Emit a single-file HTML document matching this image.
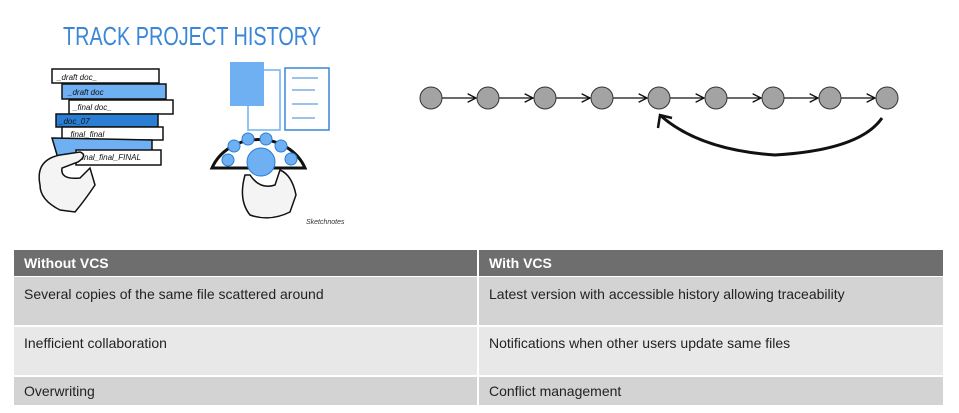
<!DOCTYPE html>
<html><head><style>
body{margin:0;width:959px;height:413px;background:#fff;position:relative;overflow:hidden;font-family:"Liberation Sans",sans-serif}
.c{position:absolute;box-sizing:border-box;padding:0 10px;font-size:14px;color:#222;line-height:16px;overflow:hidden}
.h{background:#6e6e6e;color:#fff;font-weight:bold;padding-top:5px}
.a{background:#d3d3d3}.b{background:#e8e8e8}
</style></head><body>
<svg width="959" height="250" style="position:absolute;left:0;top:0">
<text x="63" y="45" font-family="Liberation Sans" font-size="26" fill="#3a86d8" textLength="258" lengthAdjust="spacingAndGlyphs">TRACK PROJECT HISTORY</text>
<g stroke="#111" stroke-width="1.5">
<rect x="52" y="69" width="107" height="14" fill="#fff"/>
<rect x="62" y="84" width="104" height="15" fill="#6fb0f2"/>
<rect x="69" y="100" width="104" height="14" fill="#fff"/>
<rect x="56" y="114" width="102" height="13" fill="#2a7fd4"/>
<rect x="62" y="127" width="101" height="13" fill="#fff"/>
<polygon points="52,138 152,140 152,152 60,165" fill="#6fb0f2"/>
<rect x="76" y="150" width="85" height="15" fill="#fff"/>
</g>
<g fill="#111" font-family="Liberation Sans" font-size="8" font-style="italic">
<text x="57" y="80">_draft doc_</text><text x="68" y="95">_draft doc</text>
<text x="73" y="110">_final doc_</text><text x="59" y="124">_doc_07</text>
<text x="66" y="137">_final_final</text><text x="80" y="160">final_final_FINAL</text>
</g>
<path d="M40,185 Q35,160 60,155 L80,152 Q88,155 78,162 L62,168 Q60,180 80,178 L90,168 L95,185 Q85,200 75,212 L60,210 Q40,200 40,185Z" fill="#f4f4f4" stroke="#111" stroke-width="1.5"/>
<rect x="230" y="62" width="34" height="44" fill="#6fb0f2"/>
<rect x="248" y="70" width="32" height="60" fill="none" stroke="#6fb0f2" stroke-width="1.5"/>
<rect x="285" y="68" width="44" height="62" fill="#fff" stroke="#3a86d8" stroke-width="1.5"/>
<g stroke="#3a86d8" stroke-width="1"><line x1="292" y1="78" x2="318" y2="78"/><line x1="292" y1="90" x2="315" y2="90"/><line x1="292" y1="104" x2="318" y2="104"/><line x1="292" y1="118" x2="315" y2="118"/></g>
<path d="M212,168 A50,45 0 0 1 305,168 Z" fill="#fff" stroke="#111" stroke-width="3"/>
<g fill="#6fb0f2" stroke="#2a7fd4">
<circle cx="228" cy="160" r="6"/><circle cx="234" cy="146" r="6"/><circle cx="248" cy="139" r="6"/><circle cx="266" cy="139" r="6"/><circle cx="281" cy="146" r="6"/><circle cx="291" cy="159" r="6"/>
<circle cx="261" cy="162" r="14"/>
</g>
<path d="M245,175 Q238,200 250,215 Q270,222 290,212 L296,195 Q292,175 280,170 L275,185 Q260,190 250,175Z" fill="#f4f4f4" stroke="#111" stroke-width="1.5"/>
<text x="306" y="224" font-size="7" font-family="Liberation Sans" font-style="italic" fill="#333">Sketchnotes</text>
<defs><marker id="ar" markerWidth="8" markerHeight="8" refX="7" refY="4" orient="auto"><path d="M0,0.5 L7,4 L0,7.5" fill="none" stroke="#111" stroke-width="1.2"/></marker></defs>
<g stroke="#111" stroke-width="1.2" marker-end="url(#ar)">
<line x1="442" y1="98" x2="476" y2="98"/><line x1="499" y1="98" x2="533" y2="98"/><line x1="556" y1="98" x2="590" y2="98"/><line x1="613" y1="98" x2="647" y2="98"/><line x1="670" y1="98" x2="704" y2="98"/><line x1="727" y1="98" x2="761" y2="98"/><line x1="784" y1="98" x2="818" y2="98"/><line x1="841" y1="98" x2="875" y2="98"/>
</g>
<g fill="#a3a3a3" stroke="#333" stroke-width="1">
<circle cx="431" cy="98" r="11"/><circle cx="488" cy="98" r="11"/><circle cx="545" cy="98" r="11"/><circle cx="602" cy="98" r="11"/><circle cx="659" cy="98" r="11"/><circle cx="716" cy="98" r="11"/><circle cx="773" cy="98" r="11"/><circle cx="830" cy="98" r="11"/><circle cx="887" cy="98" r="11"/>
</g>
<path d="M882,118 Q860,150 775,155 Q700,150 661,116" fill="none" stroke="#111" stroke-width="3"/>
<path d="M658,128 L660,115 L672,118" fill="none" stroke="#111" stroke-width="2.5"/>
</svg>
<div class="c h" style="left:14px;top:250px;width:463px;height:26px">Without VCS</div>
<div class="c h" style="left:479px;top:250px;width:464px;height:26px">With VCS</div>
<div class="c a" style="left:14px;top:277px;width:463px;height:48px;padding-top:9px">Several copies of the same file scattered around</div>
<div class="c a" style="left:479px;top:277px;width:464px;height:48px;padding-top:9px">Latest version with accessible history allowing traceability</div>
<div class="c b" style="left:14px;top:327px;width:463px;height:48px;padding-top:8px">Inefficient collaboration</div>
<div class="c b" style="left:479px;top:327px;width:464px;height:48px;padding-top:8px">Notifications when other users update same files</div>
<div class="c a" style="left:14px;top:377px;width:463px;height:28px;padding-top:6px">Overwriting</div>
<div class="c a" style="left:479px;top:377px;width:464px;height:28px;padding-top:6px">Conflict management</div>
</body></html>
